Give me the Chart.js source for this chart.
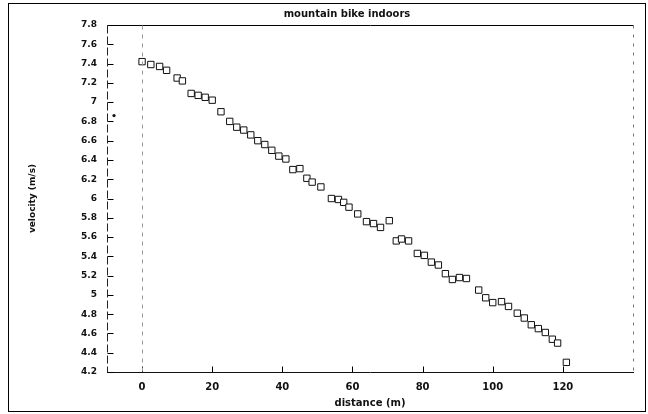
<!DOCTYPE html>
<html>
<head>
<meta charset="utf-8">
<script src="https://cdn.jsdelivr.net/npm/chart.js@4"></script>
<style>
  html, body { margin: 0; padding: 0; background: #fff; }
  #wrap { width: 648px; height: 414px; }
</style>
</head>
<body>
<div id="wrap"><canvas id="chart" width="648" height="414"></canvas></div>
<script>
// values
const distance = [0, 2.5, 5, 7, 10, 11.5, 14, 16, 18, 20, 22.5, 25, 27, 29, 31, 33, 35, 37, 39, 41,
  43, 45, 47, 48.5, 51, 54, 56, 57.5, 59, 61.5, 64, 66, 68, 70.5, 72.5, 74, 76, 78.5, 80.5, 82.5,
  84.5, 86.5, 88.5, 90.5, 92.5, 96, 98, 100, 102.5, 104.5, 107, 109, 111, 113, 115, 117, 118.5, 121];
const velocity = [7.42, 7.39, 7.37, 7.33, 7.25, 7.22, 7.09, 7.07, 7.05, 7.02, 6.90, 6.80, 6.74, 6.71, 6.66, 6.60, 6.56, 6.50, 6.44, 6.41,
  6.30, 6.31, 6.21, 6.17, 6.12, 6.00, 5.99, 5.96, 5.91, 5.84, 5.76, 5.74, 5.70, 5.77, 5.56, 5.58, 5.56, 5.43, 5.41, 5.34,
  5.31, 5.22, 5.16, 5.18, 5.17, 5.05, 4.97, 4.92, 4.93, 4.88, 4.81, 4.76, 4.69, 4.65, 4.61, 4.54, 4.50, 4.30];
const strayDistance = [-8];
const strayVelocity = [6.86];
const xTicks = [0, 20, 40, 60, 80, 100, 120];
const yTicks = [4.2, 4.4, 4.6, 4.8, 5, 5.2, 5.4, 5.6, 5.8, 6, 6.2, 6.4, 6.6, 6.8, 7, 7.2, 7.4, 7.6, 7.8];
const titleText = 'mountain bike indoors';

const FONT = 'DejaVu Sans';

// frame, title, axis lines and inward ticks
const decorations = {
    id: 'decorations',
    afterDraw(chart) {
        const ctx = chart.ctx;
        const xs = chart.scales.x;
        const ys = chart.scales.y;
        const left = Math.round(xs.left) + 0.5;
        const top = Math.round(ys.top) + 0.5;
        const right = Math.round(xs.right) + 0.5;
        const bottom = Math.round(ys.bottom) + 0.5;
        ctx.save();
        ctx.lineWidth = 1;
        ctx.strokeStyle = '#000';
        ctx.setLineDash([]);

        // outer frame
        ctx.strokeRect(8.5, 3.5, 637, 408);

        // plot top edge
        ctx.beginPath();
        ctx.moveTo(left, top);
        ctx.lineTo(right, top);
        ctx.stroke();

        // inward ticks
        yTicks.forEach(v => {
            const y = Math.round(ys.getPixelForValue(v)) + 0.5;
            ctx.beginPath();
            ctx.moveTo(left, y);
            ctx.lineTo(left + 6, y);
            ctx.stroke();
        });
        xTicks.forEach(v => {
            const x = Math.round(xs.getPixelForValue(v)) + 0.5;
            ctx.beginPath();
            ctx.moveTo(x, bottom);
            ctx.lineTo(x, bottom - 6);
            ctx.stroke();
        });

        // left axis, broken like the copy
        ctx.strokeStyle = '#222';
        ctx.setLineDash([8, 3]);
        ctx.beginPath();
        ctx.moveTo(left, top);
        ctx.lineTo(left, bottom);
        ctx.stroke();

        // right edge, faint
        ctx.strokeStyle = '#777';
        ctx.setLineDash([3, 6]);
        ctx.beginPath();
        ctx.moveTo(right, top);
        ctx.lineTo(right, bottom);
        ctx.stroke();

        // dashed line at distance 0
        ctx.strokeStyle = '#999';
        ctx.setLineDash([4, 5]);
        const x0 = Math.round(xs.getPixelForValue(0)) + 0.5;
        ctx.beginPath();
        ctx.moveTo(x0, top);
        ctx.lineTo(x0, bottom);
        ctx.stroke();
        ctx.setLineDash([]);

        // title
        ctx.fillStyle = '#111';
        ctx.font = 'bold 10px "' + FONT + '"';
        ctx.textAlign = 'center';
        ctx.textBaseline = 'middle';
        ctx.fillText(titleText, 347, 14);
        ctx.restore();
    }
};

const ctx = document.getElementById('chart').getContext('2d');
new Chart(ctx, {
    type: 'scatter',
    data: {
        datasets: [{
            label: 'velocity',
            data: distance.map((d, i) => ({ x: d, y: velocity[i] })),
            pointStyle: 'rect',
            pointRadius: 4.5,
            pointBackgroundColor: '#fff',
            pointBorderColor: '#111',
            pointBorderWidth: 1
        }, {
            label: 'stray',
            data: strayDistance.map((d, i) => ({ x: d, y: strayVelocity[i] })),
            pointStyle: 'circle',
            pointRadius: 1.6,
            pointBackgroundColor: '#111',
            pointBorderColor: '#111',
            pointBorderWidth: 0
        }]
    },
    options: {
        responsive: false,
        animation: false,
        layout: { padding: { left: 0, right: 15, top: 25, bottom: 0 } },
        plugins: {
            legend: { display: false },
            tooltip: { enabled: false },
            title: { display: false }
        },
        scales: {
            x: {
                type: 'linear',
                min: -10,
                max: 140,
                afterFit: scale => { scale.height = 42; },
                afterBuildTicks: scale => { scale.ticks = xTicks.map(v => ({ value: v })); },
                grid: { display: false, drawTicks: false },
                border: { display: true, color: '#111', width: 1 },
                ticks: {
                    color: '#111',
                    padding: 9,
                    font: { family: FONT, size: 10, weight: 'bold' }
                },
                title: {
                    display: true,
                    text: 'distance (m)',
                    color: '#111',
                    padding: { top: 0, bottom: 5 },
                    font: { family: FONT, size: 10, weight: 'bold' }
                }
            },
            y: {
                type: 'linear',
                min: 4.2,
                max: 7.8,
                afterFit: scale => { scale.width = 107; },
                afterBuildTicks: scale => { scale.ticks = yTicks.map(v => ({ value: v })); },
                grid: { display: false, drawTicks: false },
                border: { display: false },
                ticks: {
                    color: '#111',
                    padding: 10,
                    font: { family: FONT, size: 9, weight: 'bold' },
                    callback: v => String(Math.round(v * 10) / 10)
                },
                title: {
                    display: true,
                    text: 'velocity (m/s)',
                    color: '#111',
                    padding: { top: 27, bottom: 0 },
                    font: { family: FONT, size: 9, weight: 'bold' }
                }
            }
        }
    },
    plugins: [decorations]
});
</script>
</body>
</html>
